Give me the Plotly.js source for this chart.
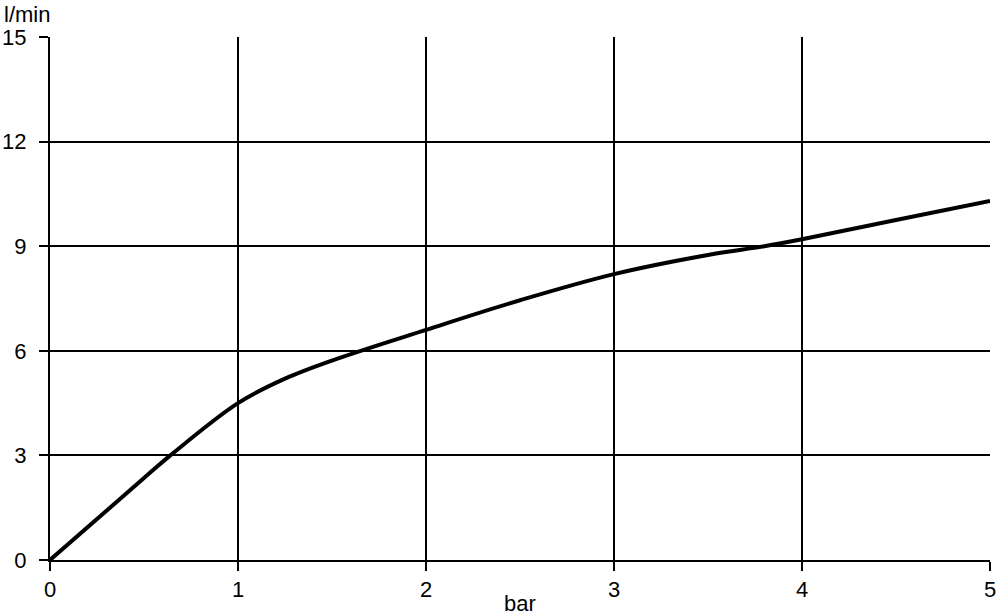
<!DOCTYPE html>
<html><head><meta charset="utf-8">
<script src="https://cdn.plot.ly/plotly-3.0.1.min.js"></script>
<style>html,body{margin:0;padding:0;background:#fff}#c{width:1000px;height:616px}</style>
</head><body><div id="c"></div>
<script>
const pressureBar = [0, 0.5, 0.64, 1, 1.25, 1.5, 2, 2.5, 3, 3.5, 3.8, 4, 4.5, 5];
const flowLpm = [0, 2.35, 3, 4.5, 5.2, 5.72, 6.6, 7.45, 8.2, 8.75, 9, 9.2, 9.75, 10.3];
const xTicks = [0, 1, 2, 3, 4, 5];
const yTicks = [0, 3, 6, 9, 12, 15];

Plotly.newPlot('c', [{
  x: pressureBar, y: flowLpm, mode: 'lines',
  line: {color: '#000', width: 4, shape: 'spline', smoothing: 1},
  hoverinfo: 'skip', showlegend: false
}], {
  width: 1000, height: 616,
  margin: {l: 50, r: 10, t: 37, b: 56},
  paper_bgcolor: '#fff', plot_bgcolor: '#fff',
  font: {family: 'Liberation Sans, Arial, sans-serif', size: 22, color: '#000'},
  xaxis: {
    range: [0, 5], tickvals: xTicks, ticktext: xTicks.map(String),
    showgrid: true, gridcolor: '#000', gridwidth: 2,
    showline: true, linecolor: '#000', linewidth: 2,
    ticks: 'outside', ticklen: 9, tickwidth: 2, tickcolor: '#000',
    zeroline: false, tickfont: {size: 22},
    title: {text: 'bar', font: {size: 22}, standoff: 0}, fixedrange: true
  },
  yaxis: {
    range: [0, 15], tickvals: yTicks, ticktext: yTicks.map(String),
    showgrid: true, gridcolor: '#000', gridwidth: 2,
    showline: true, linecolor: '#000', linewidth: 2,
    ticks: 'outside', ticklen: 9, tickwidth: 2, tickcolor: '#000',
    ticklabelstandoff: 8,
    zeroline: false, tickfont: {size: 22}, fixedrange: true
  },
  annotations: [{
    text: 'l/min', xref: 'paper', yref: 'paper', x: 0, y: 1,
    xanchor: 'left', yanchor: 'bottom', xshift: -48, yshift: 8,
    showarrow: false, font: {size: 22, color: '#000'}
  }]
}, {displayModeBar: false, staticPlot: true});
</script></body></html>
